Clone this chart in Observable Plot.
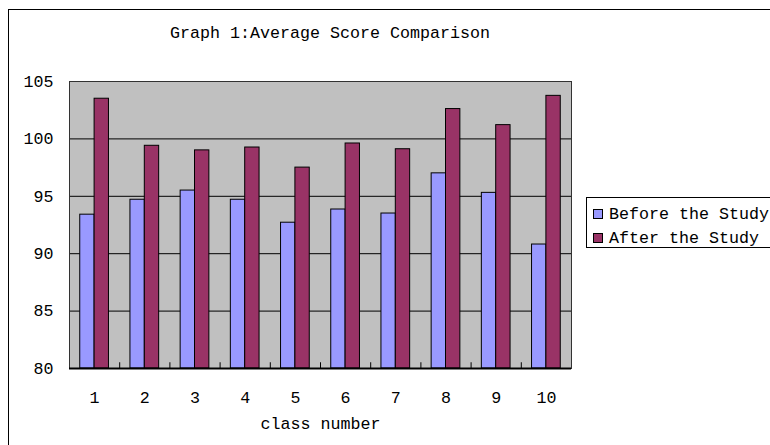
<!DOCTYPE html>
<html>
<head>
<meta charset="utf-8">
<script src="https://cdn.jsdelivr.net/npm/d3@7"></script>
<script src="https://cdn.jsdelivr.net/npm/@observablehq/plot@0.6"></script>
<style>
  html, body { margin: 0; padding: 0; background: #fff; }
  #wrap { position: relative; width: 770px; height: 445px; overflow: hidden; font-family: "Liberation Mono", "DejaVu Sans Mono", monospace; }
  #chart { position: absolute; left: 0; top: 0; }
  #border { position: absolute; left: 8px; top: 9px; width: 800px; height: 500px; border-left: 1.5px solid #000; border-top: 1.5px solid #000; box-sizing: border-box; }
  #title { position: absolute; left: 0; width: 660px; top: 24px; text-align: center; font-size: 16.67px; line-height: 20px; color: #000; }
  #legend { position: absolute; left: 586px; top: 197px; width: 220px; height: 51px; border: 1px solid #000; box-sizing: border-box; background: #fff; }
  .item { position: absolute; left: 6px; height: 20px; display: flex; align-items: center; font-size: 16.67px; white-space: nowrap; }
  .sw { width: 10px; height: 10px; border: 1px solid #000; margin-right: 6px; box-sizing: border-box; }
</style>
</head>
<body>
<div id="wrap">
  <div id="chart"></div>
  <div id="border"></div>
  <div id="title"></div>
  <div id="legend"></div>
</div>
<script>
const titleText = "Graph 1:Average Score Comparison";
const xLabel = "class number";
const classes = [1, 2, 3, 4, 5, 6, 7, 8, 9, 10];
const seriesNames = ["Before the Study", "After the Study"];
const seriesColors = ["#9999FF", "#993366"];
const before = [93.4, 94.7, 95.5, 94.7, 92.7, 93.85, 93.5, 97.0, 95.3, 90.8];
const after = [103.5, 99.4, 99.0, 99.25, 97.5, 99.6, 99.1, 102.6, 101.2, 103.75];
const yTicks = [80, 85, 90, 95, 100, 105];

const half = 0.286; // half of a class group, in category units
const rows = [];
classes.forEach((c, i) => {
  rows.push({cls: c, series: seriesNames[0], x1: c - half, x2: c, value: before[i]});
  rows.push({cls: c, series: seriesNames[1], x1: c, x2: c + half, value: after[i]});
});
const boundaries = d3.range(classes.length + 1).map(i => i + 0.5);

const plot = Plot.plot({
  width: 770,
  height: 445,
  marginLeft: 69,
  marginRight: 199,
  marginTop: 81,
  marginBottom: 77,
  style: {fontFamily: "'Liberation Mono', 'DejaVu Sans Mono', monospace", fontSize: "16.67px", color: "#000", background: "transparent"},
  x: {type: "linear", domain: [0.5, 10.5]},
  y: {domain: [80, 105]},
  color: {domain: seriesNames, range: seriesColors},
  marks: [
    Plot.frame({fill: "#C0C0C0", stroke: null}),
    Plot.gridY(yTicks.slice(1, -1), {stroke: "#000", strokeOpacity: 1}),
    Plot.rectY(rows, {x1: "x1", x2: "x2", y1: 80, y2: "value", fill: "series", stroke: "#000", strokeWidth: 1}),
    Plot.ruleX(boundaries, {y1: 80, y2: 80.5, stroke: "#000"}),
    Plot.frame({stroke: "#333", strokeWidth: 1}),
    Plot.ruleY([80], {stroke: "#000", strokeWidth: 2}),
    Plot.axisY(yTicks, {tickSize: 0, tickPadding: 16, fontSize: "16.67px", label: null}),
    Plot.axisX(classes, {tickSize: 0, tickPadding: 23, fontSize: "16.67px", label: null}),
    Plot.text([xLabel], {frameAnchor: "bottom", dy: 55, lineAnchor: "middle", fontSize: "16.67px"})
  ]
});
document.getElementById("chart").appendChild(plot);
document.getElementById("title").textContent = titleText;

const legend = document.getElementById("legend");
seriesNames.forEach((name, i) => {
  const it = document.createElement("div");
  it.className = "item";
  it.style.top = (i === 0 ? 6 : 30) + "px";
  const sw = document.createElement("div");
  sw.className = "sw";
  sw.style.background = seriesColors[i];
  const t = document.createElement("span");
  t.textContent = name;
  it.appendChild(sw);
  it.appendChild(t);
  legend.appendChild(it);
});
</script>
</body>
</html>
